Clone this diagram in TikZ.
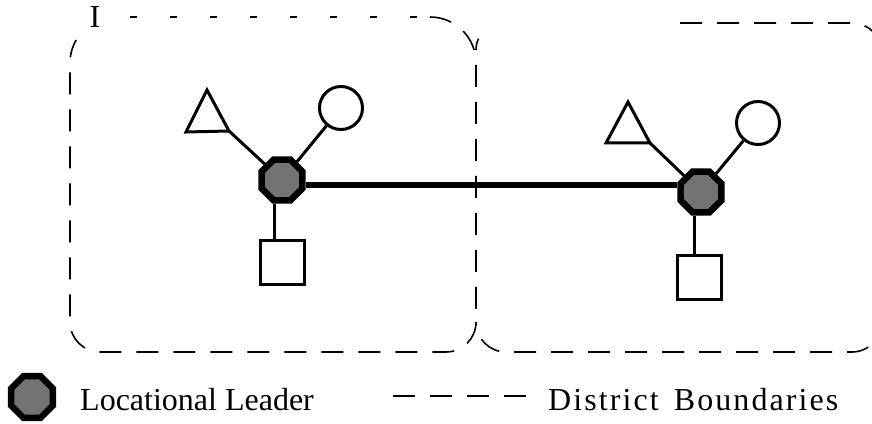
\documentclass[tikz,border=0pt]{standalone}
\usepackage{fontspec}
\setmainfont{Liberation Serif}
\newfontfamily\spacedfont[LetterSpace=6.5]{Liberation Serif}
\usetikzlibrary{shapes.geometric}
\begin{document}
\begin{tikzpicture}[x=1pt,y=1pt,
  leader/.style={regular polygon, regular polygon sides=8, minimum size=44pt, inner sep=0pt, draw=black, line width=6.5pt, fill=black!55},
  member/.style={draw=black, line width=3pt, inner sep=0pt, fill=white},
  circ/.style={member, circle, minimum size=43pt},
  sq/.style={member, rectangle, minimum size=44pt},
  tri/.style={draw=black, line width=3pt, line join=miter},
  spoke/.style={line width=3pt},
  link/.style={line width=6pt},
  bnd/.style={line width=1.6pt, dash pattern=on 22pt off 15pt},
  sparse/.style={line width=1.6pt, dash pattern=on 7pt off 33pt},
  lbl/.style={font=\fontsize{32}{38}\selectfont, inner sep=0pt}
]
\useasboundingbox (0,0) rectangle (872,423);

% district boundaries
\draw[bnd] (430,406) arc[start angle=90, end angle=0, radius=46]
  -- (476,101) arc[start angle=0, end angle=-90, radius=30]
  -- (100,71) arc[start angle=270, end angle=180, radius=30]
  -- (70,360) arc[start angle=180, end angle=150, radius=46];
\draw[sparse] (130,406) -- (428,406);
\draw[bnd] (680,400) -- (852,400) arc[start angle=90, end angle=0, radius=30]
  -- (882,101) arc[start angle=0, end angle=-90, radius=30]
  -- (506,71) arc[start angle=270, end angle=180, radius=30];
\draw[line width=1.6pt] (476,373) arc[start angle=180, end angle=155, radius=27];
\node[lbl, anchor=base] (I) at (95,395) {I};

% left group
\node[leader] (L) at (282,243) {};
\node[circ] (LC) at (341,315) {};
\node[sq] (LS) at (282,160) {};
\coordinate (LTa) at (186,291);
\coordinate (LTb) at (207,333);
\coordinate (LTc) at (229,292);
\draw[tri] (LTa) -- (LTb) -- (LTc) -- cycle;
\draw[spoke] (LTc) -- (L);
\draw[spoke] (LC) -- (L);
\draw[spoke] ([xshift=-8pt]L.south) -- ([xshift=-8pt]L.south |- LS.north);

% right group
\node[leader] (R) at (701,231) {};
\node[circ] (RC) at (758,300) {};
\node[sq] (RS) at (699,145) {};
\coordinate (RTa) at (606,280);
\coordinate (RTb) at (628,321);
\coordinate (RTc) at (650,280);
\draw[tri] (RTa) -- (RTb) -- (RTc) -- cycle;
\draw[spoke] (RTc) -- (R);
\draw[spoke] (RC) -- (R);
\draw[spoke] ([xshift=-7pt]R.south) -- ([xshift=-7pt]R.south |- RS.north);

% leaders link
\draw[link] ([yshift=-5pt]L.east) -- ([yshift=-5pt]L.east -| R.west);

% legend
\node[leader, minimum size=45pt] (K) at (32,26) {};
\node[lbl, anchor=base west] (KL) at (80,13) {Locational Leader};
\coordinate (DA) at (393,27);
\coordinate (DB) at (532,27);
\draw[bnd] (DA) -- (DB);
\node[lbl, anchor=base west] (KD) at (548,13) {\spacedfont District\hspace{5pt} Boundaries};
\end{tikzpicture}
\end{document}
